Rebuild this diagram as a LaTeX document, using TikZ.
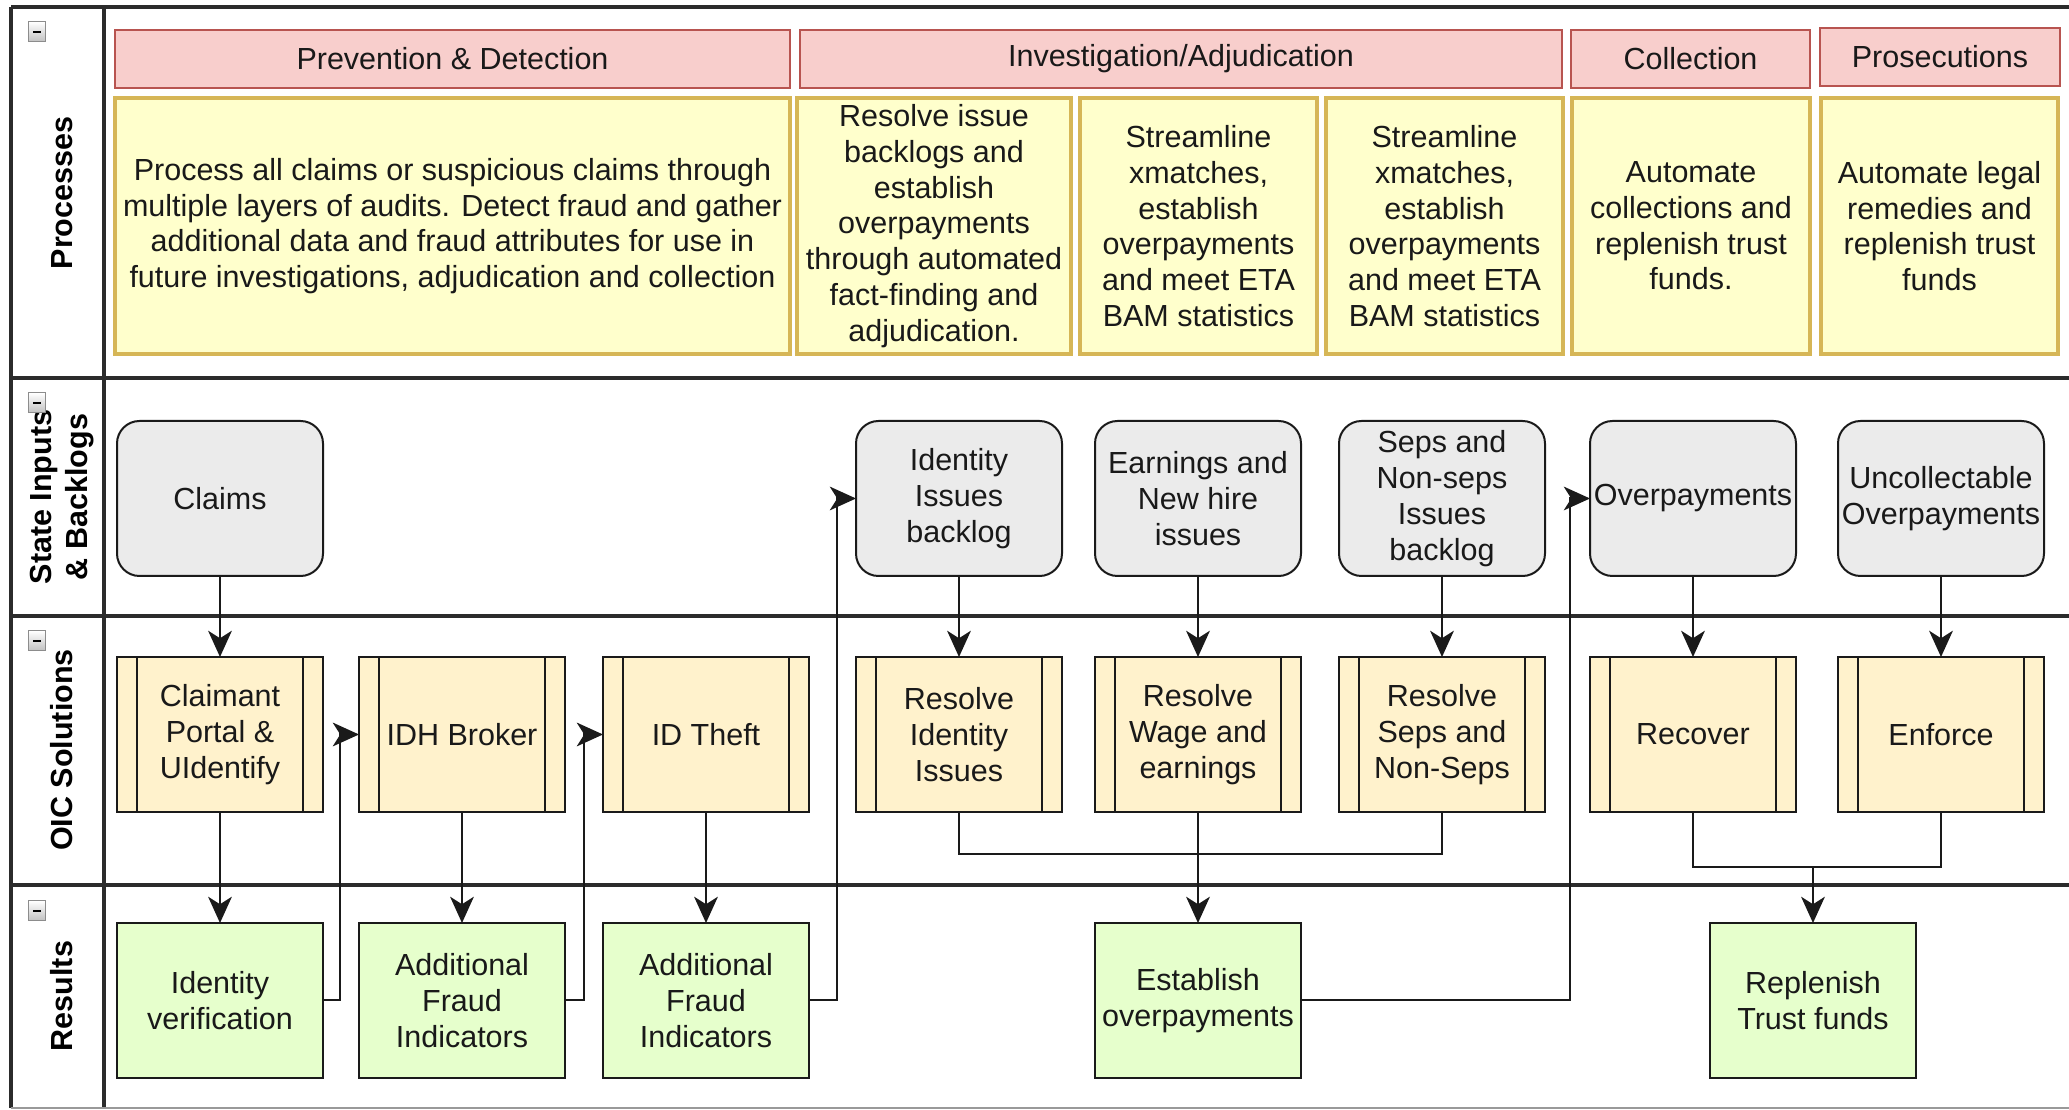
\documentclass[tikz,border=0pt]{standalone}
\usepackage{fontspec}
\setmainfont{Liberation Sans}
\usepackage{tikz}
\usetikzlibrary{arrows.meta,positioning,calc}
\definecolor{cHdr}   {HTML}{F8CECC}
\definecolor{cHdrLn} {HTML}{B85450}
\definecolor{cGoal}  {HTML}{FFFFCC}
\definecolor{cGoalLn}{HTML}{D6B656}
\definecolor{cInp}   {HTML}{EBEBEB}
\definecolor{cSol}   {HTML}{FFF2CC}
\definecolor{cRes}   {HTML}{E6FFCC}
\definecolor{cLine}  {HTML}{1A1A1A}
\definecolor{cLane}  {HTML}{2B2B2B}
\newcommand\boxfont{\fontsize{12.2pt}{14.3pt}\selectfont}
\tikzset{
  box/.style  ={draw=cLine,line width=0.8pt,align=center,inner sep=1pt,
                anchor=north west,minimum width=82.4pt,minimum height=62pt,
                font=\boxfont,text=black!90},
  inp/.style  ={box,fill=cInp,rounded corners=9pt},
  sol/.style  ={box,fill=cSol},
  res/.style  ={box,fill=cRes},
  hdr/.style  ={draw=cHdrLn,fill=cHdr,line width=1pt,anchor=north west,
                inner sep=0pt,font=\boxfont,text=black!90},
  goal/.style ={draw=cGoalLn,fill=cGoal,line width=1.4pt,anchor=north west,
                align=center,inner sep=0pt,font=\boxfont,text=black!90},
  ttl/.style  ={rotate=90,font=\boxfont\bfseries,align=center},
  tog/.style  ={draw=black!45,top color=white,bottom color=black!25,
                minimum width=7pt,minimum height=8pt,inner sep=0pt},
  lane/.style ={draw=cLane,line width=1.4pt},
  sig/.style  ={-{Stealth[length=10.5pt,width=9.5pt,inset=3pt]},draw=cLine,
                line width=0.8pt},
  ln/.style   ={draw=cLine,line width=0.8pt},
}

\begin{document}
\begin{tikzpicture}[x=0.4pt,y=0.4pt,every node/.style={outer sep=0pt}]
\useasboundingbox (0,0) rectangle (2069,-1110);

% ---- lanes ---------------------------------------------------------------
\draw[lane] (11,-7) -- (2069,-7);
\draw[lane] (11,-7) -- (11,-1108);
\draw[lane] (104,-7) -- (104,-1108);
\foreach \y in {378,616,885}{\draw[lane] (11,-\y) -- (2069,-\y);}
\draw[draw=black!40,line width=0.8pt] (11,-1108) -- (2069,-1108);

\node[ttl] (tProc) at (62,-193) {Processes};
\node[ttl] (tInp)  at (62,-497) {State Inputs\\\& Backlogs};
\node[ttl] (tSol)  at (62,-750) {OIC Solutions};
\node[ttl] (tRes)  at (62,-996) {Results};
\foreach \y in {32,403,641,911}
  {\node[tog] at (37,-\y) {\rule{3.2pt}{0.9pt}};}

% ---- Processes -----------------------------------------------------------
\node[hdr,minimum width=270pt,minimum height=23.2pt] (hPrev) at (115,-30)
  {Prevention \& Detection};
\node[hdr,minimum width=304.8pt,minimum height=23.2pt] (hInv) at (800,-30)
  {Investigation/Adjudication};
\node[hdr,minimum width=95.6pt,minimum height=23.2pt] (hColl) at (1571,-30)
  {Collection};
\node[hdr,minimum width=96pt,minimum height=23.2pt] (hPros) at (1820,-28)
  {Prosecutions};

\node[goal,minimum width=270pt,minimum height=102.4pt] (gPrev) at (115,-98)
  {Process all claims or suspicious claims through\\
   multiple layers of audits. Detect fraud and gather\\
   additional data and fraud attributes for use in\\
   future investigations, adjudication and collection};
\node[goal,minimum width=109.6pt,minimum height=102.4pt] (gIss) at (797,-98)
  {Resolve issue\\backlogs and\\establish\\overpayments\\through automated\\
   fact-finding and\\adjudication.};
\node[goal,minimum width=94.8pt,minimum height=102.4pt] (gXm1) at (1080,-98)
  {Streamline\\xmatches,\\establish\\overpayments\\and meet ETA\\BAM statistics};
\node[goal,minimum width=94.8pt,minimum height=102.4pt] (gXm2) at (1326,-98)
  {Streamline\\xmatches,\\establish\\overpayments\\and meet ETA\\BAM statistics};
\node[goal,minimum width=95.2pt,minimum height=102.4pt] (gColl) at (1572,-98)
  {Automate\\collections and\\replenish trust\\funds.};
\node[goal,minimum width=94.8pt,minimum height=102.4pt] (gPros) at (1821,-98)
  {Automate legal\\remedies and\\replenish trust\\funds};

% ---- State Inputs & Backlogs ---------------------------------------------
\node[inp] (claims) at (117,-421)  {Claims};
\node[inp] (idb)    at (856,-421)  {Identity\\Issues\\backlog};
\node[inp] (earn)   at (1095,-421) {Earnings and\\New hire\\issues};
\node[inp] (seps)   at (1339,-421) {Seps and\\Non-seps\\Issues\\backlog};
\node[inp] (ovp)    at (1590,-421) {Overpayments};
\node[inp] (unc)    at (1838,-421) {Uncollectable\\Overpayments};

% ---- OIC Solutions -------------------------------------------------------
\node[sol] (portal) at (117,-657)  {Claimant\\Portal \&\\UIdentify};
\node[sol] (idh)    at (359,-657)  {IDH Broker};
\node[sol] (theft)  at (603,-657)  {ID Theft};
\node[sol] (rid)    at (856,-657)  {Resolve\\Identity\\Issues};
\node[sol] (rwage)  at (1095,-657) {Resolve\\Wage and\\earnings};
\node[sol] (rseps)  at (1339,-657) {Resolve\\Seps and\\Non-Seps};
\node[sol] (recov)  at (1590,-657) {Recover};
\node[sol] (enf)    at (1838,-657) {Enforce};
\foreach \n in {portal,idh,theft,rid,rwage,rseps,recov,enf}
  {\draw[ln] ([xshift=8pt]\n.north west) -- ([xshift=8pt]\n.south west);
   \draw[ln] ([xshift=-8pt]\n.north east) -- ([xshift=-8pt]\n.south east);}

% ---- Results -------------------------------------------------------------
\node[res] (idv)   at (117,-923)  {Identity\\verification};
\node[res] (afi1)  at (359,-923)  {Additional\\Fraud\\Indicators};
\node[res] (afi2)  at (603,-923)  {Additional\\Fraud\\Indicators};
\node[res] (estab) at (1095,-923) {Establish\\overpayments};
\node[res] (repl)  at (1710,-923) {Replenish\\Trust funds};

% ---- connectors ----------------------------------------------------------
\foreach \a/\b in {claims/portal,portal/idv,idh/afi1,theft/afi2,idb/rid,
                   earn/rwage,seps/rseps,ovp/recov,unc/enf,rwage/estab}
  {\draw[sig] (\a.south) -- (\b.north);}
\draw[sig] (idv.east)   -- ++(17,0)  |- (idh.west);
\draw[sig] (afi1.east)  -- ++(19,0)  |- (theft.west);
\draw[sig] (afi2.east)  -- ++(28,0)  |- (idb.west);
\draw[sig] (estab.east) -- ++(269,0) |- (ovp.west);
\coordinate (jEst) at (rwage.south |- 0,-854);
\draw[ln] (rid.south) |- (jEst) -| (rseps.south);
\coordinate (jRep) at (repl.north |- 0,-867);
\draw[ln] (recov.south) |- (jRep) -| (enf.south);
\draw[sig] (jRep) -- (repl.north);
\end{tikzpicture}
\end{document}
